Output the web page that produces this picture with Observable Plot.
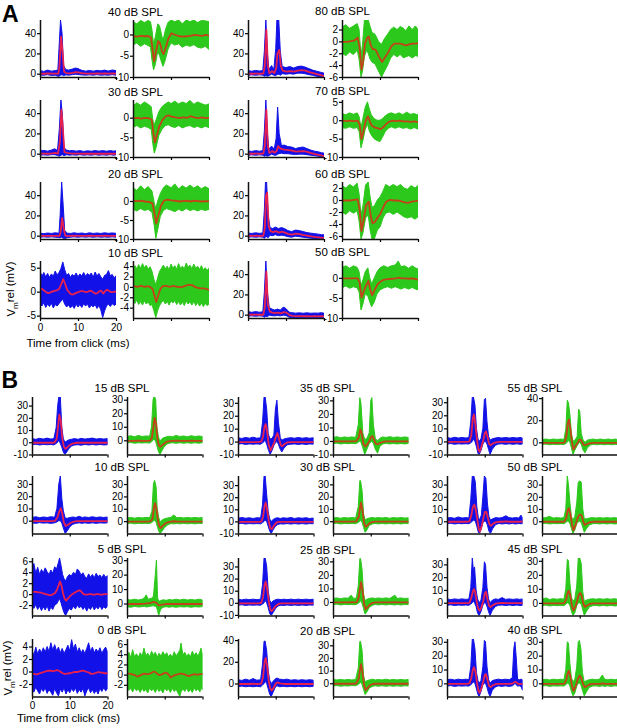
<!DOCTYPE html>
<html><head><meta charset="utf-8">
<script src="https://cdn.jsdelivr.net/npm/d3@7"></script>
<script src="https://cdn.jsdelivr.net/npm/@observablehq/plot@0.6"></script>
<style>
html,body{margin:0;padding:0;background:#fff}
#fig{position:relative;width:617px;height:728px;overflow:hidden;font-family:"Liberation Sans",Arial,sans-serif}
#fig svg{position:absolute}
</style></head>
<body><div id="fig"></div>
<script>
// Each row: [time (ms), lowest trace, highest trace, mean trace]
// ---------- Panel A, blue (left of each pair) ----------
const A40b=[[0,-1.5,3,0.5],[1,-1.5,2.2,0.4],[2,-1,3.5,0.8],[3,-1.8,2.5,0.5],[4,-1.5,3,0.6],[4.7,-2.5,3.5,0.5],[5.0,-2.5,25,8],[5.4,-1.5,53,37],[5.8,-1,40,22],[6.2,-2,8,2.5],[6.8,-1.2,4,1],[7.5,-1.5,3.5,0.8],[8.5,-1,4.5,1.2],[9.3,-0.5,5.5,2],[10,-0.8,5,1.8],[10.8,-1.2,3.5,1],[12,-1.5,2.5,0.6],[13,-1.2,3.2,0.6],[14,-1.5,2.5,0.5],[15,-1,3.2,0.7],[16,-1.5,2.8,0.5],[17,-1.3,3.5,0.7],[18,-1.5,2.6,0.5],[19,-1,3.6,0.7],[20,-1.5,3,0.5]];
const A30b=[[0,-1.5,2.8,0.5],[1,-1.2,3.2,0.6],[2,-1.5,2.5,0.4],[3,-1,3.5,0.7],[3.9,-1,4.8,1.2],[4.6,-1.8,3,0.5],[5.1,-2.5,25,12],[5.5,-1.5,53,44],[5.9,-1,38,24],[6.3,-2,6,2],[7,-1,3.5,1.2],[7.8,-1.5,2.8,0.7],[8.5,-1.2,3.2,0.6],[9.5,-1.5,2.5,0.5],[10.5,-1,3,0.6],[11.5,-1.5,2.2,0.4],[12.5,-1.2,2.8,0.5],[13.5,-1.5,2.4,0.4],[14.5,-1,3,0.6],[15.5,-1.5,2.5,0.4],[16.5,-1.2,3,0.5],[17.5,-1.5,2.4,0.4],[18.5,-1,3,0.5],[19.3,-1.5,2.5,0.4],[20,-1.2,2.8,0.5]];
const A20b=[[0,-1.5,2.5,0.3],[1,-1.2,2,0.2],[2,-1.6,2.6,0.3],[3,-1.2,2.2,0.2],[4,-1.5,2.8,0.3],[5,-1.8,2.4,0.2],[5.3,-2,20,4],[5.7,-1.5,53,18],[6.1,-2.5,30,8],[6.5,-2.8,5,0.5],[7.2,-2,2.5,0],[8,-1.5,2.2,0.2],[9,-1.2,2.8,0.4],[10,-1.6,2.2,0.3],[11,-1.2,2.6,0.3],[12,-1.5,2,0.2],[13,-1.2,2.8,0.4],[14,-1.6,2.2,0.3],[15,-1.2,2.6,0.3],[16,-1.5,2.2,0.2],[17,-1.3,2.8,0.4],[18,-1.6,2.3,0.3],[19,-1.2,2.7,0.3],[20,-1.5,2.3,0.3]];
const A10b=[[0,-2.4,4.3,0.8],[0.5,-3.0,3.2,0.6],[1,-2.3,4.0,0.3],[1.5,-3.3,3.1,0],[2,-2.6,3.8,-0.2],[2.5,-3.1,3.0,-0.1],[3,-2.4,3.7,0.1],[3.5,-3.4,3.2,0.2],[4,-2.7,4.3,0.3],[4.5,-3.0,3.5,0.4],[5,-2.5,4.0,0.8],[5.5,-2.0,4.8,1.8],[6,-1.6,6.2,2.7],[6.5,-2.6,4.6,1.7],[7,-3.2,3.4,0.5],[7.5,-2.8,3.8,0],[8,-3.4,3.0,-0.4],[8.5,-2.9,3.6,-0.5],[9,-3.5,3.2,-0.3],[9.5,-2.6,3.9,-0.1],[10,-3.2,3.1,0],[10.5,-2.7,3.7,0.2],[11,-3.3,3.3,0.2],[11.5,-2.5,4.0,0.1],[12,-3.0,3.2,0],[12.5,-2.6,3.8,0.1],[13,-3.4,3.4,0.3],[13.5,-2.8,3.9,0.2],[14,-3.2,3.0,-0.1],[14.5,-2.7,4.1,-0.3],[15,-3.5,3.3,-0.2],[15.5,-2.9,3.8,0.2],[16,-3.8,3.1,0.3],[16.5,-5.4,2.6,-0.3],[17,-4.0,3.4,0.2],[17.5,-3.0,3.6,0.5],[18,-2.6,4.4,0.3],[18.5,-3.1,3.3,0],[19,-2.5,3.6,0],[19.5,-2.9,2.9,0.1],[20,-2.6,3.3,0.1]];
const A80b=[[0,-1.5,3,0.5],[1,-1.2,2.4,0.4],[2,-1.6,3.2,0.6],[3,-1.2,2.6,0.4],[3.9,-1.5,3,0.5],[4.3,-2.5,22,8],[4.7,-2,53,44],[5.1,-2.5,20,8],[5.5,-2,4,0.8],[6.2,-0.5,8,3],[6.8,-1.5,4,1],[7.3,-2,25,6],[7.6,-1,53,20],[8.1,-0.5,53,24],[8.5,-1.5,22,8],[9,0,7,3.5],[10,-0.5,6,2.5],[11,0,7,3],[12,-0.5,5.5,2.5],[13,0.5,7,3.5],[14,0.5,7.5,4],[15,0,6.5,3.5],[16,-1,5,2],[17,-1.5,3.5,1],[18,-2.5,2.5,0],[19,-3,1.5,-1],[20,-3.3,0.5,-2]];
const A70b=[[0,-1.5,2.8,0.5],[1,-1.2,2.2,0.4],[2,-1.6,3,0.5],[3,-1.2,2.4,0.4],[3.9,-1.5,3,0.5],[4.3,-2.5,22,8],[4.7,-2,53,44],[5.1,-2.5,20,8],[5.5,-2,4,1],[6.2,-0.5,7.5,3],[6.9,-1.5,4.5,1.5],[7.4,-1.5,15,3],[7.8,-0.5,46,8],[8.2,0,20,6],[8.8,0.5,8,5],[9.5,0,8.5,4.5],[10.5,0,7,4],[11.5,-0.5,6.5,3.5],[12.5,-0.8,5,2.5],[13.5,-0.5,6,2.8],[14.5,-0.5,6.5,3],[15.5,-1,5,2.2],[16.5,-1.5,3.5,1],[17.5,-2,2.5,0],[18.5,-2.5,1.8,-0.7],[19.3,-3,1,-1.4],[20,-3.3,0.5,-2]];
const A60b=[[0,-1.5,2.6,0.4],[1,-1.2,2.2,0.3],[2,-1.6,2.8,0.4],[3,-1.2,2.3,0.3],[3.9,-1.5,2.7,0.4],[4.3,-2.5,25,8],[4.6,-1.5,53,40],[4.9,-1,53,43],[5.3,-2,20,10],[5.8,0.5,8,5],[6.5,0,7,4],[7.2,1,8.5,5],[8,0,7,3.5],[8.8,0.5,8,4.5],[9.6,0,7,3.5],[10.5,-1,5,2],[11.5,-1.5,4,1.5],[12.5,-0.5,5.5,2.5],[13.5,-1,5,2],[14.5,-1.5,4,1],[15.5,-2,3,0.5],[16.5,-2.5,2.5,-0.3],[17.5,-3,2,-0.8],[18.5,-3,1.5,-1.2],[19.3,-3.3,1,-1.6],[20,-3.3,0.8,-1.8]];
const A50b=[[0,-1.5,3,0.5],[1,-1.2,2.3,0.4],[2,-1.6,3,0.5],[3,-1.2,2.4,0.4],[3.9,-1.5,2.8,0.4],[4.3,-2.5,22,8],[4.7,-1.5,53,43],[5.1,-2,22,10],[5.6,-0.5,7,3.5],[6.3,-1,5.5,2.5],[7,-1.2,4.5,2],[7.8,-0.8,5.5,2.5],[8.5,-1.2,4.5,1.8],[9.3,-0.5,7.5,3],[10,-0.8,6,2.5],[10.8,-2.5,2.5,0],[11.5,-3,2,-0.8],[12.5,-2.8,1.5,-1],[13.5,-3,1.8,-1],[14.5,-2.8,1.4,-1.1],[15.5,-3,1.8,-1],[16.5,-2.8,1.4,-1.2],[17.5,-3,1.6,-1.1],[18.5,-2.8,1.5,-1.2],[19.3,-3,2,-1],[20,-3,1.4,-1.2]];
// ---------- Panel A, green (right of each pair) ----------
const A40g=[[0,-2.5,3,-0.3],[1,-2,2.5,-0.4],[2,-2.8,3.3,-0.2],[3,-2.2,2.8,-0.3],[4,-2.6,3.3,-0.3],[4.6,-3,3,-0.6],[5.0,-6,1,-3.2],[5.4,-8.3,-2.2,-6.2],[5.9,-7,-0.5,-4],[6.5,-4,2.5,-1.4],[7.0,-5,2,-2],[7.5,-6.5,0,-3.8],[7.9,-7.5,-1.5,-4.5],[8.5,-6,1,-3],[9.2,-3.5,2.8,-0.8],[10,-2,3.4,0.4],[11,-2.5,3,0],[12,-2.2,3.4,-0.3],[13,-3,2.5,-0.4],[14,-2.5,3.4,-0.3],[15,-2.8,3,-0.2],[16,-2.4,3.4,0],[17,-3,2.8,-0.1],[18,-3.2,3.3,-0.2],[19,-2.8,3.2,0],[20,-3.5,3,-0.2]];
const A30g=[[0,-2.5,3,0],[1,-2,3.8,0.1],[2,-2.6,3.2,-0.1],[3,-2.2,4,0.1],[4,-2.5,3.4,0],[4.8,-3,2.8,-0.4],[5.2,-6.5,-0.5,-3.5],[5.6,-9,-1.8,-6.2],[6.1,-7.5,-0.5,-4.5],[6.8,-4.5,1.5,-2],[7.6,-3,2.8,-0.5],[8.5,-2,3.5,0.5],[9.3,-1.8,4,0.7],[10,-2.2,3.6,0.4],[11,-2.5,4.2,0.2],[12,-2,3.5,0],[13,-2.6,4,0.2],[14,-2.2,3.6,0.1],[15,-2,4.4,0.5],[16,-2.5,3.4,0.2],[17,-2.2,4,0],[18,-2.6,3.6,0.2],[19,-2.2,3.2,0],[20,-2.5,3.5,0.1]];
const A20g=[[0,-2.2,3.5,0.2],[1,-2.6,2.8,0.1],[2,-2,4,0.2],[3,-2.5,3,0],[4,-2.2,3.8,-0.1],[5,-3,2.6,-0.5],[5.6,-6.5,-0.5,-3.5],[6.0,-9.8,-2,-5.8],[6.5,-7.5,0,-3.8],[7.2,-4,2,-1.2],[8,-2.5,3.5,0.2],[8.8,-2,4.2,0.5],[10,-2.4,3.5,0.3],[11,-2.8,4.5,0.2],[12,-2.2,3.2,0],[13,-2.6,4,0.1],[14,-2,3.4,0.2],[15,-2.5,4.2,0],[16,-2.2,3.4,0.2],[17,-2.6,4,0.1],[18,-2.2,3.2,0],[19,-2.5,3.8,0.1],[20,-2.2,3.2,0]];
const A10g=[[0,-2.6,3.4,0.2],[0.5,-3.2,4.1,0.2],[1,-2.5,3.5,0.1],[1.5,-3.4,4.3,0.2],[2,-2.8,3.6,0.3],[2.5,-3.5,4.5,0.2],[3,-2.7,3.7,0.1],[3.5,-3.3,4.2,0.2],[4,-2.9,3.4,0.2],[4.5,-3.6,3.9,0],[5,-3.4,3.0,-0.3],[5.5,-4.6,1.5,-1.5],[6,-5.9,0.4,-2.8],[6.5,-4.5,1.8,-1.6],[7,-3.6,3.0,-0.4],[7.5,-3.0,3.6,0.1],[8,-2.6,4.2,0.3],[8.5,-3.3,3.5,0.3],[9,-2.8,4.0,0.2],[9.5,-3.5,3.3,0.1],[10,-2.7,4.4,0.2],[10.5,-3.1,3.6,0.3],[11,-2.6,4.1,0.2],[11.5,-3.4,3.4,0.1],[12,-2.8,4.5,0.1],[12.5,-3.5,3.6,0],[13,-2.9,4.0,0.1],[13.5,-3.6,3.5,0.3],[14,-2.7,4.6,0.4],[14.5,-3.3,3.8,0.5],[15,-2.9,4.2,0.5],[15.5,-3.5,3.5,0.4],[16,-2.8,4.4,0.2],[16.5,-3.6,3.6,0],[17,-3.0,4.0,-0.1],[17.5,-3.7,3.4,-0.2],[18,-3.1,4.1,-0.2],[18.5,-3.8,3.3,-0.2],[19,-3.2,3.7,-0.3],[19.5,-3.6,3.2,-0.4],[20,-3.3,3.6,-0.5]];
const A80g=[[0,-2,2.4,0],[1,-2.4,2.8,0],[2,-1.8,2.2,0.1],[3,-2.2,2.6,0.2],[4,-1.5,3,0.7],[4.5,-3,2,-1],[5,-6,-2.5,-4.7],[5.4,-5,-0.5,-3.5],[5.9,-2.5,3.6,-0.3],[6.5,-1.5,3.6,0.7],[6.9,-2,3.6,0.9],[7.4,-3,2.5,-0.5],[7.9,-3.5,1.5,-1.2],[8.7,-3.8,1.2,-1.3],[9.6,-5,0,-2.5],[10.4,-6,-0.5,-3.4],[11.2,-5,0.5,-2.6],[12,-4,1.2,-1.8],[12.8,-2.8,2,-0.8],[13.6,-2.2,2.4,-0.3],[14.5,-2.6,2,-0.3],[15.3,-2.2,2.5,-0.3],[16.2,-2.8,2.2,-0.5],[16.8,-2.6,1.8,-0.6],[17.6,-2.4,2.6,-0.4],[18.5,-2.8,2,-0.3],[19.3,-2.4,2.6,-0.3],[20,-2.5,2,-0.2]];
const A70g=[[0,-2,1.8,0],[1,-2.2,1.5,-0.1],[2,-1.8,2,0],[3,-2.2,1.6,-0.1],[4,-2,2,0],[4.5,-3,1,-1],[5,-7.5,-2,-5],[5.5,-5.5,0.5,-3],[6.1,-2.5,3.5,0],[6.7,-1,5,1.2],[7.2,-3,3,-0.3],[7.7,-4,1.5,-1.3],[8.4,-5,0.5,-1.8],[9.2,-5.5,0,-2],[10,-5.8,0,-2.3],[10.7,-4.5,0.5,-1.8],[11.4,-3,1.2,-1],[12.2,-2.2,1.8,-0.3],[13,-1.8,2,0],[14,-2.2,1.6,-0.1],[15,-1.8,2,0],[16,-2.2,1.5,-0.2],[17,-2,2.2,-0.2],[18,-2.4,1.6,-0.3],[19,-2,1.8,-0.2],[20,-2.4,1.4,-0.4]];
const A60g=[[0,-2,2.4,0],[1,-2.4,2,0],[2,-1.8,2.6,0],[3,-2.2,2.2,0.1],[4,-1.8,2.8,0.2],[4.5,-3.5,1,-1.5],[5,-6.5,-2.5,-5.1],[5.5,-5.5,-1,-3.5],[6.2,-3,2.5,-0.8],[6.9,-2.5,3,-0.2],[7.4,-5,0.5,-2.5],[7.9,-6.5,-1.2,-3.8],[8.5,-6.5,-1,-3.6],[9.3,-5,0,-2.8],[10,-4.5,0.5,-2.2],[10.8,-3,1.5,-1],[11.5,-2.2,2.6,-0.2],[12.5,-2,2.2,0.1],[13.5,-2.4,2.6,0],[14.5,-2,2.2,0],[15.4,-2.4,2.6,-0.1],[16.3,-2.8,2,-0.3],[17.2,-3,1.8,-0.4],[18.2,-2.8,2.4,-0.2],[19.2,-3.2,2,-0.1],[20,-2.8,2.4,0]];
const A50g=[[0,-2.5,2.6,0],[1,-2,3,0],[2,-2.6,2.4,0],[3,-2.2,3,0],[4,-2.5,2.6,0],[4.5,-3.5,1.5,-1],[5,-8,-2,-4.8],[5.5,-6.5,-0.5,-3.5],[6.1,-4,1.5,-2],[6.8,-4.5,2.5,-0.6],[7.3,-6,0,-2.8],[7.8,-7.2,-1.5,-4.2],[8.5,-6,0,-2.8],[9.2,-4,1.5,-1.5],[10,-3,2.5,-0.8],[11,-2.5,3,-0.3],[12,-2.2,2.6,-0.2],[13,-2.6,3,-0.1],[14,-2.2,3.2,0],[14.8,-2.5,4.2,0.2],[15.5,-2.8,2.8,0],[16.5,-2.4,3,0],[17.5,-2.8,2.4,-0.1],[18.5,-2.4,3,0],[19.3,-2.8,2.5,-0.2],[20,-3,2.2,-0.3]];
// ---------- Panel B, blue ----------
const B15b=[[0,-2,3,0],[1,-1.6,2.4,0.1],[2,-2.2,3.2,0],[3,-1.8,2.6,0.1],[4,-2,3.4,0],[5,-1.8,2.6,0],[5.8,-2.2,3,0.2],[6.4,-1,12,3],[6.8,0,30,14],[7.1,2,37,23],[7.5,-1,37,18],[7.9,-4,12,3],[8.3,-8,3,-3],[8.7,-10,0,-5],[9.2,-8,1,-3.8],[9.8,-5,2,-2],[10.5,-3,2.5,-0.8],[11.3,-2.2,3,-0.2],[12.2,-2,2.4,0],[13,-2.4,3.2,0.1],[14,-1.8,2.6,0],[15,-2.2,3,0],[16,-1.8,3.4,0.1],[17,-2.2,2.6,0],[18,-1.8,3,0],[19,-2.2,2.6,0],[20,-2,3,0]];
const B10b=[[0,-1.8,2.6,0],[1,-2.2,3.2,0],[2,-1.6,2.4,0],[3,-2,3,0],[4,-1.8,2.6,0],[5,-2.2,3.2,0.1],[6,-1.8,2.8,0.3],[6.6,-1,10,3],[7.1,0,30,8],[7.5,0,36.5,10.5],[7.9,-2,18,6],[8.3,-6,8,-1],[8.8,-10.5,2,-4],[9.4,-8,2,-3],[10,-5,2.5,-1.5],[10.8,-3,3,-0.5],[11.6,-2.2,2.6,0],[12.5,-1.8,3.5,0.1],[13.3,-2.2,2.6,0],[14,-1.8,3,0],[15,-2.2,2.6,0],[16,-1.8,3.2,0],[17,-2.2,2.6,0],[18,-1.8,3,0],[19,-2,2.6,0],[20,-1.8,3,0]];
const B5b=[[0,-2.0,4.2,0.5],[0.5,-2.6,5.6,0.5],[1,-1.9,3.8,0.5],[1.5,-2.8,4.9,0.4],[2,-2.2,3.6,0.4],[2.5,-3.0,4.5,0.3],[3,-2.3,3.9,0.2],[3.5,-2.9,4.8,0.1],[4,-2.1,4.1,0],[4.5,-3.1,3.6,-0.1],[5,-2.4,4.4,-0.1],[5.5,-2.8,3.8,0.1],[6,-2.0,5.0,0.3],[6.5,-1.8,4.6,0.9],[7,-1.2,5.8,1.9],[7.3,-0.8,6.6,2.4],[7.7,-1.6,5.2,1.6],[8.1,-2.6,3.6,0.2],[8.5,-3.4,2.8,-0.7],[8.9,-3.9,2.4,-1.1],[9.4,-3.2,3.2,-0.7],[9.9,-2.6,3.6,-0.3],[10.4,-2.9,3.3,0],[11,-2.2,4.0,0.3],[11.5,-2.7,3.6,0.5],[12,-2.0,4.6,0.7],[12.5,-2.5,4.2,0.8],[13,-2.2,3.5,0.5],[13.5,-2.8,3.9,0.1],[14,-2.3,3.2,0],[14.5,-3.1,2.9,0],[15,-2.4,3.7,0.1],[15.5,-2.8,3.1,0.1],[16,-2.1,3.6,0],[16.5,-2.9,3.0,0],[17,-2.3,3.8,0.1],[17.5,-2.7,3.2,0.1],[18,-2.1,3.5,0],[18.5,-2.8,3.0,0],[19,-2.3,3.6,0.1],[19.5,-2.6,3.1,0.1],[20,-2.2,3.4,0.1]];
const B0b=[[0,-2.8,3.4,-0.3],[0.5,-3.3,2.6,-0.3],[1,-2.5,3.9,-0.4],[1.5,-3.1,2.8,-0.3],[2,-3.6,3.6,-0.2],[2.5,-2.7,3.0,-0.1],[3,-3.2,3.8,0],[3.5,-2.6,3.1,0.1],[4,-3.5,4.0,0.2],[4.5,-2.9,3.2,0.2],[5,-3.3,4.6,0.2],[5.5,-3.8,3.4,0.1],[6,-2.7,4.3,0.2],[6.5,-3.4,3.3,0.3],[7,-3.9,3.9,0.2],[7.5,-2.8,3.0,0],[8,-3.3,3.7,-0.2],[8.5,-2.6,2.9,-0.3],[9,-3.6,3.5,-0.3],[9.5,-2.9,4.2,-0.2],[10,-3.4,3.3,-0.2],[10.5,-2.7,5.1,-0.1],[11,-3.2,3.6,0],[11.5,-2.6,4.4,0],[12,-3.5,3.1,0],[12.5,-2.9,3.8,0.1],[13,-3.3,3.0,0.2],[13.5,-2.7,3.5,0.2],[14,-3.9,2.9,0.1],[14.5,-3.1,3.7,0],[15,-2.6,4.6,-0.1],[15.5,-3.4,3.2,-0.3],[16,-2.9,3.9,-0.3],[16.5,-3.5,3.0,-0.2],[17,-3.0,3.6,-0.1],[17.5,-3.6,3.1,0],[18,-2.7,3.8,-0.1],[18.5,-3.2,2.9,-0.1],[19,-2.6,3.5,-0.2],[19.5,-3.1,3.9,-0.2],[20,-2.8,3.2,-0.2]];
const B35b=[[0,-2,3,0],[1,-1.6,2.4,0],[2,-2.2,3.2,0],[3,-1.8,2.6,0],[4,-2,3.4,0],[5,-1.8,2.6,0],[6,-2,3,0.3],[6.5,-1,15,4],[6.9,0,34.5,12],[7.2,1,34.5,14],[7.6,-2,25,8],[8,-6,6,-2],[8.5,-10,2,-6.5],[9,-7,2.5,-3.5],[9.5,-3,5,0],[9.9,-1,25,4],[10.3,0,32,7],[10.7,-2,15,3],[11.2,-6,3,-2.5],[11.6,-8,1,-3.2],[12.2,-5,2,-1.5],[13,-2.5,2.6,-0.2],[14,-2,3,0],[15,-1.8,2.6,0],[16,-2.2,3.2,0],[17,-1.8,2.6,0],[18,-2.2,3,0],[19,-1.8,2.6,0],[20,-2,3,0]];
const B30b=[[0,-2,2.6,0],[1,-1.6,3.2,0],[2,-2.2,2.6,0],[3,-1.8,3,0],[4,-2,2.4,0],[5,-1.8,3,0],[6,-2,2.8,0.3],[6.5,-1,14,4],[6.9,0,37.5,13],[7.2,1,37.5,16],[7.6,0,22,10],[8,-4,8,1],[8.4,-8,2,-5],[8.8,-10,0,-6],[9.3,-7,1.5,-3.5],[9.9,-4,2.6,-1],[10.5,-2.6,3,0],[11.2,-2,2.4,0],[12,-2.2,3,0],[13,-1.8,2.6,0],[14,-2.2,3.2,0],[15,-1.8,2.4,0],[16,-2.2,3,0],[17,-1.8,2.6,0],[18,-2.2,3,0],[19,-1.8,2.4,0],[20,-2,2.8,0]];
const B25b=[[0,-2,3,0],[1,-1.6,2.4,0],[2,-2.2,3,0],[3,-1.8,2.6,0],[4,-2,3,0],[5,-1.8,2.6,0],[6,-2,3,0.3],[6.5,-1,15,5],[6.9,0,37,15],[7.2,2,37,18],[7.6,0,30,12],[8,-4,10,2],[8.4,-9,2,-5],[8.8,-10.5,0,-6.4],[9.3,-8,1.5,-4.5],[9.9,-5,2.5,-2],[10.6,-2.6,3,-0.5],[11.4,-2,2.6,0],[12.2,-2.2,3,0],[13,-1.8,2.6,0],[14,-2.2,3,0],[15,-1.8,2.6,0],[16,-2.2,3,0],[17,-1.8,2.6,0],[18,-2.2,3,0],[19,-1.8,2.6,0],[20,-2,3,0]];
const B20b=[[0,-3,3.5,0],[1,-2.4,2.8,0],[2,-3,4,0],[3,-2.6,3,0],[4,-3,4.5,0.2],[5,-2.6,3,0],[6,-3,3.5,0.3],[6.5,-1.5,18,6],[6.9,0,39,20],[7.2,2,39,24],[7.6,0,30,16],[8,-5,12,3],[8.4,-10,3,-4],[8.8,-12,0,-6],[9.3,-8,2,-3.5],[9.8,-4,4,0],[10.3,-2,5,1.5],[11,-3,4,0.5],[12,-2.6,3.5,0],[13,-3,4,0],[14,-2.6,3,0],[15,-3,3.5,0],[16,-2.6,3,0],[17,-3,3.5,0],[18,-2.6,3,0],[19,-3,3.5,0],[20,-2.6,3,0]];
const B55b=[[0,-2,3,0],[1,-1.6,2.4,0],[2,-2.2,3.2,0],[3,-1.8,2.6,0],[4,-2,3,0],[5,-1.8,2.6,0],[5.8,-2,3,0.3],[6.3,-1,15,5],[6.7,0,34,18],[7,2,34,21],[7.4,0,28,13],[7.8,-4,10,2],[8.2,-9,2,-6],[8.5,-10,0,-7.5],[9,-7,2,-3.5],[9.5,-2,10,1.5],[9.9,0,32,7],[10.2,0,33,8],[10.6,-2,15,4],[11,-6,4,-1.5],[11.4,-10,1,-2.5],[12,-6,2,-1.2],[12.8,-3,2.6,-0.3],[13.6,-2,3,0],[14.5,-1.8,2.6,0],[15.5,-2.2,3,0],[16.5,-1.8,2.6,0],[17.5,-2.2,3,0],[18.5,-1.8,2.6,0],[19.3,-2.2,3,0],[20,-2,2.6,0]];
const B50b=[[0,-2,2.6,0],[1,-1.6,3,0],[2,-2.2,2.4,0],[3,-1.8,3.5,0],[4,-2,2.6,0],[5,-1.8,3,0],[5.8,-2,2.6,0.3],[6.3,-1,18,5],[6.7,0,37,12],[7.1,1,37,14],[7.5,0,32,10],[7.9,-4,12,2],[8.3,-9,3,-6],[8.6,-10,1,-8],[9.1,-6,5,-3],[9.5,-1,20,3],[9.9,0,37,8],[10.3,0,35,8],[10.7,-3,15,3],[11.1,-8,4,-2],[11.5,-10,1,-3.3],[12.1,-6,2,-1.5],[12.9,-2.6,3,-0.3],[13.8,-1.8,2.6,0],[14.6,-2.2,3,0],[15.6,-1.8,4.5,0.3],[16.4,-2.2,3,0],[17.3,-1.8,2.6,0],[18.2,-2.2,3,0],[19,-1.8,2.6,0],[19.6,-2,5,0.3],[20,-2,3,0]];
const B45b=[[0,-2,3,0],[1,-1.6,2.4,0],[2,-2.2,3,0],[3,-1.8,2.6,0],[4,-2,3,0],[5,-1.8,2.6,0],[5.8,-2,3,0.3],[6.3,-1,12,4],[6.7,0,35,9],[7,1,25,11],[7.3,0,28,9],[7.7,-3,10,2],[8.1,-8,3,-4],[8.5,-10,0,-6],[9,-7,2,-3],[9.5,-2,12,2],[9.9,0,32,8],[10.2,0,30,9],[10.6,-3,12,3],[11,-7,3,-2],[11.4,-10,0,-3],[12,-6,2,-1.5],[12.8,-3,3,-0.3],[13.6,-2,2.6,0],[14.6,-1.8,4,0.3],[15.5,-2.2,2.6,0],[16.5,-1.8,3,0],[17.5,-2.2,2.6,0],[18.5,-1.8,3,0],[19.3,-2.2,2.6,0],[20,-2,3,0]];
const B40b=[[0,-2,2.6,0],[1,-1.6,3,0],[2,-2.2,2.4,0],[3,-1.8,3,0],[4,-2,2.6,0],[5,-1.8,3,0],[5.8,-2,2.6,0.3],[6.3,-1,12,4],[6.7,0,32,10],[7,1,32,12],[7.4,0,25,9],[7.8,-4,8,1],[8.2,-8,2,-5],[8.5,-9.5,0,-6.5],[9,-6,2,-3],[9.5,-1,12,2],[9.9,0,31,6.5],[10.2,0,30,7],[10.6,-3,12,3],[11,-7,3,-1.5],[11.4,-9.5,0,-2.4],[12,-5,2,-1],[12.8,-2.6,2.6,-0.2],[13.6,-1.8,3,0],[14.5,-2.2,2.6,0],[15.5,-1.8,3,0],[16.5,-2.2,2.6,0],[17.3,-1.8,4,0.3],[17.7,-1,25,1.2],[18,0,30,1.5],[18.3,-1,20,1],[18.7,-2,3,0],[19.2,-1.8,2.6,0],[19.6,-2.2,3,0],[20,-5,2.6,-0.2]];
// ---------- Panel B, green ----------
const B15g=[[0,-2,2.8,0],[1,-1.6,3.4,0],[2,-2.2,2.6,0],[3,-1.8,3.6,0.1],[4,-2,2.8,0],[5,-1.8,3.2,0],[6,-2,3,0.2],[6.5,-1,10,2.5],[6.9,0,30,11],[7.2,1,33,17],[7.6,-1,30,12],[7.9,-4,10,2],[8.3,-8,3,-3.5],[8.7,-10.5,-1,-4.5],[9.2,-8,1,-3.2],[9.8,-5,2,-1.8],[10.5,-3,2.6,-0.6],[11.2,-2.2,3,-0.2],[12,-1.8,2.6,0],[13,-2.2,3.6,0.1],[14,-1.8,2.8,0],[15,-2.2,3.2,0],[16,-1.8,2.6,0],[17,-2.2,3.4,0.1],[18,-1.8,2.8,0],[19,-2.2,3.2,0],[20,-1.8,2.8,0]];
const B10g=[[0,-2,2.6,0],[1,-1.6,3,0],[2,-2.2,2.4,0],[3,-1.8,3,0],[4,-2,2.6,0],[5,-1.8,3,0],[6,-2,2.8,0.2],[6.6,-1,8,2],[7,0,30,11],[7.3,1,33,15],[7.7,-1,28,10],[8,-4,10,2],[8.4,-8,3,-3.5],[8.8,-10,-1,-5.2],[9.3,-8,1,-3.5],[10,-5,2,-1.5],[10.8,-3,2.6,-0.4],[11.6,-2,3,0],[12.4,-2.2,5,0.3],[13.2,-1.8,2.8,0],[14,-2.2,3,0],[15,-1.8,2.6,0],[16,-2.2,3,0],[17,-1.8,2.6,0],[18,-2.2,3,0],[19,-1.8,2.6,0],[20,-2,3,0]];
const B5g=[[0,-2.2,2.8,0],[1,-2.6,2.4,0],[2,-2,3,0],[3,-2.4,2.4,0],[4,-2.2,3,0.1],[4.6,-2,4,0.3],[5.1,-2.4,6,0.5],[5.6,-2.2,3,0.5],[6.4,-1.8,3.5,1],[7,-1.5,5,1.5],[7.5,-2,20,1],[7.8,-2.5,30,0.5],[8.1,-5,4,-0.5],[8.4,-8.3,1.5,-1],[8.9,-4,2,-0.6],[9.6,-2.6,2.6,-0.2],[10.4,-2.2,2.2,0],[11.2,-2.6,2.8,0],[12,-2.2,2.4,0],[13,-2.6,3,0],[14,-2.2,2.4,0],[15,-2.4,3,0],[16,-2.2,2.4,0],[17,-2.6,2.8,0],[18,-2.2,2.4,0],[19,-2.4,3,0],[20,-2.2,2.4,0]];
const B0g=[[0,-2.5,3.6,0.3],[0.5,-3.1,4.4,0.3],[1,-2.7,3.3,0.2],[1.5,-3.4,4.9,0.1],[2,-2.6,3.5,0],[2.5,-3.2,4.1,-0.3],[3,-2.8,3.4,-0.2],[3.5,-3.5,4.3,0],[4,-2.7,3.6,0.2],[4.5,-3.3,5.2,0.3],[5,-2.9,3.7,0.2],[5.5,-3.6,4.2,0.2],[6,-2.6,3.5,0.3],[6.5,-3.2,4.6,0.5],[7,-2.8,3.9,0.7],[7.5,-3.5,4.4,0.5],[8,-2.7,3.4,0.2],[8.5,-3.3,4.2,0],[9,-2.9,3.6,0.1],[9.5,-3.6,4.5,0.3],[10,-2.6,3.8,0.5],[10.5,-3.2,4.3,0.4],[11,-2.8,3.5,0],[11.5,-3.5,4.0,-0.5],[12,-2.7,3.4,-0.2],[12.5,-3.3,4.5,0],[13,-2.9,3.7,0.1],[13.5,-3.6,4.2,0.2],[14,-4.3,4.8,0.3],[14.3,-3.4,6.2,0.3],[14.8,-2.8,3.9,0.2],[15.3,-3.3,4.4,0.1],[15.8,-2.7,3.6,-0.1],[16.3,-3.4,4.1,-0.2],[16.8,-2.9,3.5,0],[17.3,-3.5,4.6,0.1],[17.8,-2.6,3.8,0.2],[18.3,-3.2,4.3,0.1],[18.8,-2.8,3.6,0.1],[19.3,-3.4,4.5,0.2],[19.6,-2.7,5.2,0.2],[20,-3.0,4.0,0.2]];
const B35g=[[0,-2,2.6,0],[1,-1.6,3.2,0],[2,-2.2,2.4,0],[3,-1.8,3,0],[4,-2,2.6,0],[5,-1.8,3,0],[6,-2,2.6,0.2],[6.7,-1,12,3],[7.1,0,32,9],[7.4,-1,28,7],[7.9,-5,6,-1.5],[8.4,-10,1,-3.8],[9,-6,2,-2],[9.6,-2,6,1],[10,-1,30,3.5],[10.3,0,32,4],[10.7,-2,12,1.5],[11.2,-6,2,-1.8],[11.8,-9,0,-2],[12.4,-4,2,-1],[13.2,-2.2,3,-0.2],[14,-1.8,2.6,0],[15,-2.2,3.2,0],[16,-1.8,2.6,0],[17,-2.2,3,0],[18,-1.8,2.6,0],[19,-2.2,3,0],[20,-1.8,2.6,0]];
const B30g=[[0,-2,2.6,0],[1,-1.6,3,0],[2,-2.2,2.4,0],[3,-1.8,3,0],[4,-2,2.6,0],[5,-1.8,3,0],[6,-2,2.6,0.2],[6.7,-1,12,4],[7.1,0,33,13],[7.3,1,33,15.5],[7.7,-1,25,9],[8.1,-5,6,-1],[8.5,-9,1,-4],[9,-7,2,-3],[9.6,-3.5,2.6,-1],[10.4,-2.2,3,-0.2],[11.2,-1.8,2.6,0],[12,-2.2,3,0],[13,-1.8,2.6,0],[14,-2.2,3,0],[15,-1.8,2.4,0],[16,-2.2,3,0],[17,-1.8,2.6,0],[18,-2.2,3,0],[19,-1.8,2.6,0],[20,-2,2.8,0]];
const B25g=[[0,-2,2.6,0],[1,-1.6,3,0],[2,-2.2,2.4,0],[3,-1.8,3,0],[4,-2,2.8,0],[4.8,-1.8,5,0.3],[5.5,-2,2.6,0],[6.2,-1.8,3,0.3],[6.7,-1,12,4],[7.1,0,32,12],[7.3,1,32,15],[7.7,-1,24,9],[8.1,-5,6,-1],[8.5,-9,1,-5],[9,-7,2,-3.5],[9.6,-4,2.6,-1.5],[10.4,-2.5,3,-0.3],[11.2,-1.8,2.6,0],[12,-2.2,3,0],[13,-1.8,2.6,0],[14,-2.2,3,0],[15,-1.8,2.6,0],[16.4,-2.2,5,0.2],[17,-1.8,2.6,0],[18,-2.2,3,0],[19,-1.8,2.6,0],[20,-2,2.8,0]];
const B20g=[[0,-2.2,3,0],[1,-1.8,2.6,0],[2,-2.4,3,0],[3,-2,2.6,0],[4,-2.2,3,0],[5,-1.8,2.6,0],[6,-2,3,0.2],[6.7,-1,12,4],[7.1,0,33,13],[7.3,1,33,15.5],[7.7,-1,26,9],[8.1,-5,6,-1],[8.5,-9,1,-5],[9,-7,2,-3.5],[9.6,-4,2.6,-1.2],[10.4,-2.5,3.2,-0.2],[11.2,-2,2.6,0],[12,-2.4,3,0],[13,-2,2.6,0],[14,-2.4,3.2,0],[15,-2,2.6,0],[16,-2.4,3,0],[17,-2,2.6,0],[18,-2.4,3,0],[19,-2,2.6,0],[20,-2.2,3,0]];
const B55g=[[0,-2,2.6,0],[1,-1.6,3,0],[2,-2.2,2.4,0],[3,-1.8,3,0],[4,-2,2.6,0],[5,-1.8,3,0],[5.8,-2,2.6,0.2],[6.3,-1,12,5],[6.7,0,38,18],[7,2,36,21],[7.4,0,25,12],[7.8,-5,8,1],[8.2,-11,1,-6],[8.7,-7,2,-3],[9.3,-3,5,0],[9.7,-1,30,2.5],[10,0,28,3],[10.4,-2,8,1],[10.9,-7,2,-1.8],[11.4,-9.5,0,-2],[12,-5,2,-1],[12.8,-2.5,2.6,-0.2],[13.6,-1.8,3,0],[14.5,-2.2,2.4,0],[15.5,-1.8,3,0],[16.5,-2.2,2.4,0],[17.5,-1.8,3,0],[18.5,-2.2,2.4,0],[19.3,-1.8,3,0],[20,-2,2.6,0]];
const B50g=[[0,-2,2.6,0],[1,-1.6,3,0],[2,-2.2,4,0],[3,-1.8,2.6,0],[4,-2,3,0],[5,-1.8,2.6,0],[5.8,-2,3,0.2],[6.3,-1,10,3],[6.7,0,37,10],[7,0,30,11],[7.4,-2,15,6],[7.8,-6,4,-2],[8.2,-10,1,-7],[8.7,-7,4,-3],[9.2,-2,15,2],[9.6,-0.5,32,5],[10,0,33,6],[10.4,-1,32,5],[10.8,-5,10,0],[11.2,-9,2,-2.5],[11.8,-6,2,-1.5],[12.5,-3,2.6,-0.4],[13.4,-2,3,0],[14.3,-1.8,2.6,0],[15.2,-2.2,3,0],[16.2,-1.8,2.6,0],[17.2,-2.2,3,0],[18.2,-1.8,2.6,0],[19.2,-2.2,3,0],[20,-2,2.6,0]];
const B45g=[[0,-2,2.6,0],[1,-1.6,3.5,0],[2,-2.2,2.4,0],[3,-1.8,3,0],[4,-2,2.6,0],[5,-1.8,3,0],[5.8,-2,2.6,0.2],[6.3,-1,10,3],[6.7,0,31,8],[7,0,30,9],[7.4,-2,14,5],[7.8,-6,4,-2],[8.2,-9,1,-5],[8.7,-7,3,-2.5],[9.2,-2,12,2],[9.6,0,32,6],[10,0,32,7.5],[10.4,-1,28,5],[10.8,-5,8,0],[11.2,-9,1,-2.5],[11.8,-6,2,-1.5],[12.5,-3,2.6,-0.4],[13.4,-2,3,0],[14.3,-1.8,2.6,0],[15.2,-2.2,3,0],[16.2,-1.8,2.6,0],[17.2,-2.2,3,0],[18.2,-1.8,2.6,0],[19.2,-2.2,3,0],[20,-2,2.6,0]];
const B40g=[[0,-2,2.6,0],[1,-1.6,3,0],[2,-2.2,2.4,0],[3,-1.8,3,0],[4,-2,2.6,0],[5,-1.8,3,0],[5.8,-2,2.6,0.2],[6.3,-1,10,3],[6.7,0,30,8],[7,0,29,9.5],[7.4,-2,14,5],[7.8,-6,4,-1.5],[8.2,-9,1,-5],[8.7,-7,3,-2.5],[9.2,-2,12,2],[9.6,0,30,5],[9.9,0,31,6],[10.3,-1,25,4],[10.7,-5,8,0],[11.2,-9,1,-2.5],[11.8,-6,2,-1.5],[12.5,-3,2.6,-0.4],[13.4,-2,3,0],[14.3,-1.8,2.6,0],[15.2,-2.2,3,0],[16,-1.8,6,0.3],[16.6,-2.2,3,0],[17.4,-1.8,2.6,0],[18.3,-2.2,3,0],[19.2,-1.8,2.6,0],[20,-2,3,0]];

// Tick label lists
const tA_blue=[0,20,40], tA10_blue=[-5,0,5], tA_green=[0,-5,-10], tA70_green=[5,0,-5,-10], tA10_green=[4,2,0,-2,-4], tA_green6=[2,0,-2,-4,-6];
const tB_full=[30,20,10,0,-10], tB_30=[30,20,10,0], tB_40=[40,20,0], tB5_blue=[6,4,2,0,-2], tB0_blue=[4,2,0,-2], tB0_green=[6,4,2,0,-2];
const timeTicks=[0,10,20];
const titlesA_left=["40 dB SPL","30 dB SPL","20 dB SPL","10 dB SPL"];
const titlesA_right=["80 dB SPL","70 dB SPL","60 dB SPL","50 dB SPL"];
const titlesB_left=["15 dB SPL","10 dB SPL","5 dB SPL","0 dB SPL"];
const titlesB_mid=["35 dB SPL","30 dB SPL","25 dB SPL","20 dB SPL"];
const titlesB_right=["55 dB SPL","50 dB SPL","45 dB SPL","40 dB SPL"];

// ---------- layout (positions only) ----------
const BLUE="#1212e8", GREEN="#2cc81c", RED_ON_BLUE="#e8204e", RED_ON_GREEN="#c4421a";
const rowsA=[76.7,156.7,239,317.5];
const rowsB=[454,533.3,615.7,696.5];
const specs=[
  // [data, color, x0, yBottom, y domain, ticks, xlabels]
  [A40b,"b",40,rowsA[0],[-3.3,53],tA_blue],[A40g,"g",133,rowsA[0],[-10,3.4],tA_green],
  [A30b,"b",40,rowsA[1],[-3.3,53],tA_blue],[A30g,"g",133,rowsA[1],[-10,4.5],tA_green],
  [A20b,"b",40,rowsA[2],[-3.3,53],tA_blue],[A20g,"g",133,rowsA[2],[-10,5],tA_green],
  [A10b,"b",40,rowsA[3],[-5.5,6.4],tA10_blue,true],[A10g,"g",133,rowsA[3],[-6,5],tA10_green],
  [A80b,"b",247.5,rowsA[0],[-3.3,53],tA_blue],[A80g,"g",341.5,rowsA[0],[-6,3.6],tA_green6],
  [A70b,"b",247.5,rowsA[1],[-3.3,53],tA_blue],[A70g,"g",341.5,rowsA[1],[-10,5.5],tA70_green],
  [A60b,"b",247.5,rowsA[2],[-3.3,53],tA_blue],[A60g,"g",341.5,rowsA[2],[-6.5,3],tA_green6],
  [A50b,"b",247.5,rowsA[3],[-3.3,53],tA_blue],[A50g,"g",341.5,rowsA[3],[-10,4.2],tA_green],
  [B15b,"b",31.7,rowsB[0],[-10,37],tB_full],[B15g,"g",126.7,rowsB[0],[-10.5,32],tB_30],
  [B10b,"b",31.7,rowsB[1],[-10.5,36.5],tB_30],[B10g,"g",126.7,rowsB[1],[-10,36.5],tB_30],
  [B5b,"b",31.7,rowsB[2],[-3.9,6.6],tB5_blue],[B5g,"g",126.7,rowsB[2],[-8.3,31.5],tB_30],
  [B0b,"b",31.7,rowsB[3],[-4,5.2],tB0_blue,true],[B0g,"g",126.7,rowsB[3],[-4.3,7],tB0_green],
  [B35b,"b",238.3,rowsB[0],[-10,34.5],tB_full],[B35g,"g",332.7,rowsB[0],[-10,32.5],tB_full],
  [B30b,"b",238.3,rowsB[1],[-10,37.5],tB_full],[B30g,"g",332.7,rowsB[1],[-10,36.8],tB_30],
  [B25b,"b",238.3,rowsB[2],[-10.5,37],tB_full],[B25g,"g",332.7,rowsB[2],[-10,32.5],tB_30],
  [B20b,"b",238.3,rowsB[3],[-12,41],tB_40],[B20g,"g",332.7,rowsB[3],[-10.5,35],tB_30],
  [B55b,"b",446.7,rowsB[0],[-10,34],tB_full],[B55g,"g",541.7,rowsB[0],[-11,41],tB_40],
  [B50b,"b",446.7,rowsB[1],[-10,37],tB_30],[B50g,"g",541.7,rowsB[1],[-10,37],tB_30],
  [B45b,"b",446.7,rowsB[2],[-10,35],tB_30],[B45g,"g",541.7,rowsB[2],[-9,32],tB_30],
  [B40b,"b",446.7,rowsB[3],[-9.5,32],tB_30],[B40g,"g",541.7,rowsB[3],[-9.5,32],tB_30]
];

const fig=document.getElementById("fig");
const FONT='"Liberation Sans", Arial, sans-serif';
const ml=30, mr=4, mt=3, mb=18;
for (const [data,col,x0,yb,dom,ticks,xlab] of specs) {
  const W = yb < 330 ? 76 : 75.5;
  const H = yb < 330 ? 57 : 57.5;
  const band = col==="b" ? BLUE : GREEN;
  const mean = col==="b" ? RED_ON_BLUE : RED_ON_GREEN;
  const svg = Plot.plot({
    width: W+ml+mr, height: H+mt+mb,
    marginLeft: ml, marginRight: mr, marginTop: mt, marginBottom: mb,
    style: {fontFamily: FONT, fontSize: "10px", color: "#000", background: "transparent", overflow: "visible"},
    x: {domain: [0,20]},
    y: {domain: dom},
    marks: [
      Plot.areaY(data, {x: d=>d[0], y1: d=>d[1], y2: d=>d[2], fill: band, stroke: band, strokeWidth: 1, clip: true}),
      Plot.lineY(data, {x: d=>d[0], y: d=>d[3], stroke: mean, strokeWidth: 1.8, clip: true}),
      Plot.axisY(ticks, {tickSize: 3, tickPadding: 1.5, tickFormat: d=>String(d), label: null, fontSize: 10, strokeWidth: 1.2}),
      Plot.axisX(timeTicks, {tickSize: 3, tickPadding: 2, tickFormat: xlab ? (d=>String(d)) : (()=>""), label: null, fontSize: 10, strokeWidth: 1.2}),
      Plot.ruleX([0], {stroke: "#111", strokeWidth: 1.5}),
      Plot.ruleY([dom[0]], {stroke: "#111", strokeWidth: 1.5})
    ]
  });
  svg.style.position="absolute";
  svg.style.left=(x0-ml)+"px";
  svg.style.top=(yb-H-mt)+"px";
  fig.appendChild(svg);
}

// ---------- text overlay ----------
const ov=d3.select(fig).append("svg").attr("width",617).attr("height",728)
  .style("left","0px").style("top","0px").style("pointer-events","none")
  .attr("font-family",FONT).attr("fill","#000");
function titles(list, cx, rows, off){
  list.forEach((t,i)=>ov.append("text").attr("x",cx).attr("y",rows[i]-off).attr("text-anchor","middle").attr("font-size",11.5).text(t));
}
titles(titlesA_left,135.5,rowsA,61); titles(titlesA_right,342.5,rowsA,61.5);
titles(titlesB_left,122,rowsB,62.5); titles(titlesB_mid,327.5,rowsB,62); titles(titlesB_right,535,rowsB,62.5);
ov.append("text").attr("x",2).attr("y",21.5).attr("font-size",23).attr("font-weight","bold").text("A");
ov.append("text").attr("x",1.5).attr("y",387.5).attr("font-size",23).attr("font-weight","bold").text("B");
ov.append("text").attr("x",78).attr("y",347).attr("text-anchor","middle").attr("font-size",11.5).text("Time from click (ms)");
ov.append("text").attr("x",68.5).attr("y",722).attr("text-anchor","middle").attr("font-size",11.5).text("Time from click (ms)");
function ylab(cx,cy){
  const t=ov.append("text").attr("transform",`translate(${cx},${cy}) rotate(-90)`).attr("text-anchor","middle").attr("dy","0.35em").attr("font-size",11.5);
  t.append("tspan").text("V");
  t.append("tspan").attr("font-size",8).attr("dy","0.35em").text("m");
  t.append("tspan").attr("dy","-0.35em").text("rel (mV)");
}
ylab(11,289); ylab(8,668);
</script></body></html>
